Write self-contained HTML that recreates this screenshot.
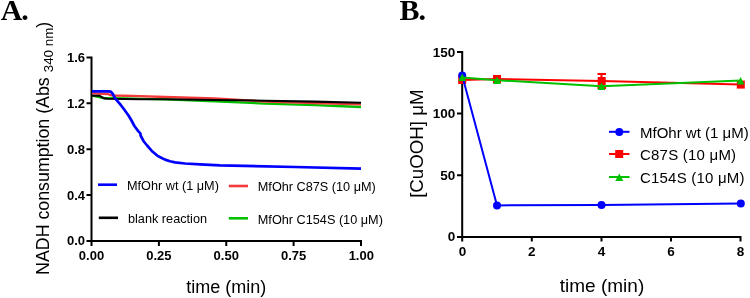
<!DOCTYPE html>
<html>
<head>
<meta charset="utf-8">
<style>
html,body{margin:0;padding:0;background:#fff;}
body{width:750px;height:298px;overflow:hidden;}
svg{display:block;will-change:transform;}
text{font-family:"Liberation Sans", sans-serif;fill:#000;}
.serif{font-family:"Liberation Serif", serif;font-weight:bold;font-size:30px;}
.tick{font-weight:bold;font-size:13px;}
.leg{font-size:12.7px;}
.legb{font-size:15px;}
.ax{stroke:#000;stroke-width:2;fill:none;stroke-linecap:butt;stroke-linejoin:miter;}
</style>
</head>
<body>
<svg width="750" height="298" viewBox="0 0 750 298">
<!-- Panel A -->
<text class="serif" x="0.7" y="20.2" letter-spacing="-1.2">A.</text>

<!-- A axes -->
<path class="ax" d="M86.5,57.5 H91.5 V246 M86.5,241 H361 V246 M86.5,103.3 H91.5 M86.5,149.2 H91.5 M86.5,195 H91.5 M158.9,241 V246 M226.25,241 V246 M293.6,241 V246"/>

<!-- A y tick labels -->
<g class="tick" text-anchor="end">
<text x="85" y="62.1">1.6</text>
<text x="85" y="107.9">1.2</text>
<text x="85" y="153.8">0.8</text>
<text x="85" y="199.6">0.4</text>
<text x="85" y="245.4">0.0</text>
</g>
<!-- A x tick labels -->
<g class="tick" text-anchor="middle">
<text x="91.5" y="260">0.00</text>
<text x="158.9" y="260">0.25</text>
<text x="226.25" y="260">0.50</text>
<text x="293.6" y="260">0.75</text>
<text x="361.3" y="260">1.00</text>
</g>
<text x="226.3" y="292.8" font-size="18" text-anchor="middle">time (min)</text>
<text transform="translate(48.9,148.3) rotate(-90)" font-size="17.8" text-anchor="middle">NADH consumption (Abs <tspan font-size="13.4" dy="4.5">340 nm</tspan><tspan dy="-4.5">)</tspan></text>

<!-- A curves -->
<g fill="none" stroke-width="2.6" stroke-linejoin="round" stroke-linecap="butt">
<polyline stroke="#00c000" stroke-width="2.3" points="92,95.5 104,98 115,98.2 165,99.3 215,101.3 265,103.6 315,105.2 361,107"/>
<polyline stroke="#f43a3a" stroke-width="2.3" points="92,93.4 108,94 110,95 115,95.5 140,96.1 165,97 215,98.5 265,101.5 315,103 361,104.3"/>
<polyline stroke="#000" stroke-width="2.1" points="92,95.7 99.4,95.7 102,97.4 104,98.4 108,98.8 140,99.2 165,99.3 215,100 265,100.7 315,101.6 361,102.7"/>
<polyline stroke="#0000ff" stroke-width="2.7" points="92,91.4 108,91.4 110.8,91.7 112.8,94 115.5,98.8 120.1,104.1 124.2,109.5 128.5,115.5 131.5,120.5 134.4,126 138.4,131.4 140.4,133.4 140.6,135.5 143.8,141.5 147.1,145.5 151.8,150.9 157.2,155.6 161.2,157.8 165,159.6 170,161.3 175,162.4 185,163.5 200,164.4 220,165.3 295,167 361,168.7"/>
</g>

<!-- A legend -->
<g stroke-width="2.6">
<line x1="98" y1="184.7" x2="117" y2="184.7" stroke="#0000ff"/>
<line x1="228.8" y1="186" x2="248" y2="186" stroke="#f43a3a"/>
<line x1="98.8" y1="217.8" x2="118" y2="217.8" stroke="#000"/>
<line x1="228.8" y1="218.3" x2="248" y2="218.3" stroke="#00c000"/>
</g>
<g class="leg">
<text x="127" y="189.8">MfOhr wt (1 μM)</text>
<text x="257.8" y="190.8">MfOhr C87S (10 μM)</text>
<text x="128" y="223">blank reaction</text>
<text x="257.8" y="223.5">MfOhr C154S (10 μM)</text>
</g>

<!-- Panel B -->
<text class="serif" x="399.6" y="20.2" letter-spacing="-1.2">B.</text>
<path class="ax" d="M457,52 H462.2 V241.5 M457,237 H740.5 V241.5 M457,113.6 H462.2 M457,175.2 H462.2 M531.8,237 V241.5 M601.5,237 V241.5 M671,237 V241.5"/>
<g class="tick" text-anchor="end" style="font-size:13.5px">
<text x="455.3" y="56.6">150</text>
<text x="455.3" y="118.2">100</text>
<text x="455.3" y="179.9">50</text>
<text x="455.3" y="241.4">0</text>
</g>
<g class="tick" text-anchor="middle" style="font-size:13.5px">
<text x="462.5" y="256.4">0</text>
<text x="531.8" y="256.4">2</text>
<text x="601.4" y="256.4">4</text>
<text x="671" y="256.4">6</text>
<text x="740.5" y="256.4">8</text>
</g>
<text x="602" y="292" font-size="19" text-anchor="middle">time (min)</text>
<text transform="translate(423,143.65) rotate(-90)" font-size="18.7" text-anchor="middle">[CuOOH] μM</text>

<!-- B data -->
<g fill="none" stroke-width="2">
<polyline stroke="#ff0000" points="462.2,80 497,79 601.5,81 740.8,84.6"/>
</g>
<g fill="#ff0000" stroke="#ff0000" stroke-width="2">
<line x1="601.5" y1="74" x2="601.5" y2="88"/>
<line x1="597.5" y1="74" x2="606" y2="74"/>
<line x1="597.5" y1="88" x2="606" y2="88"/>
</g>
<g fill="#ff0000">
<rect x="458.2" y="76" width="8" height="8"/>
<rect x="493" y="75" width="8" height="8"/>
<rect x="597.7" y="77" width="8" height="8"/>
<rect x="736.8" y="80.6" width="8" height="8"/>
</g>
<polyline fill="none" stroke="#0000ff" stroke-width="2" points="462.2,75.5 497,205.4 601.5,205 740.8,203.5"/>
<g fill="#0000ff">
<circle cx="462.2" cy="75.5" r="4"/>
<circle cx="497" cy="205.4" r="4"/>
<circle cx="601.5" cy="205" r="4"/>
<circle cx="740.8" cy="203.5" r="4"/>
</g>
<polyline fill="none" stroke="#00c000" stroke-width="2" points="462.2,77.5 497,80.2 601.5,86.2 740.8,80.5"/>
<g fill="#00c000">
<path d="M462.2,73.4 L466.1,80.9 L458.3,80.9 Z"/>
<path d="M497,76.5 L501,83.9 L493,83.9 Z"/>
<path d="M601.5,82.5 L605.4,89.9 L597.6,89.9 Z"/>
<path d="M740.6,77 L744.4,84.4 L736.8,84.4 Z"/>
</g>

<!-- B legend -->
<line x1="609" y1="131.8" x2="629.5" y2="131.8" stroke="#0000ff" stroke-width="2"/>
<circle cx="619.3" cy="131.9" r="4" fill="#0000ff"/>
<line x1="609" y1="154" x2="629.5" y2="154" stroke="#ff0000" stroke-width="2"/>
<rect x="615.2" y="150" width="8" height="8" fill="#ff0000"/>
<line x1="609" y1="177" x2="629.5" y2="177" stroke="#00c000" stroke-width="2"/>
<path d="M619.3,173.5 L623.3,181 L615.3,181 Z" fill="#00c000"/>
<g class="legb">
<text x="640" y="137.8">MfOhr wt (1 μM)</text>
<text x="640" y="160" letter-spacing="0.22">C87S (10 μM)</text>
<text x="640" y="183" letter-spacing="0.2">C154S (10 μM)</text>
</g>
</svg>
</body>
</html>
